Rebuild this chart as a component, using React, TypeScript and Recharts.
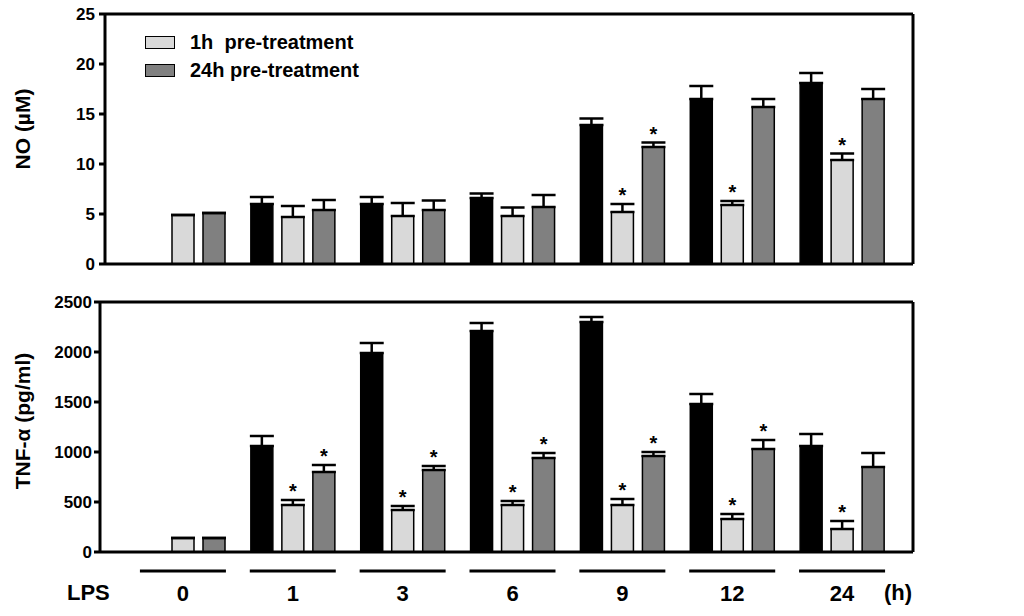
import React from 'react';
import { BarChart, Bar, XAxis, YAxis, ErrorBar, LabelList, Legend, ReferenceLine } from 'recharts';

const FONT = '"Liberation Sans", Arial, Helvetica, sans-serif';

const categories = ['0', '1', '3', '6', '9', '12', '24'];

// NO (µM)
const noLps = [null, 6.0, 6.0, 6.6, 13.9, 16.5, 18.1];
const noLpsErr = [null, 0.7, 0.7, 0.45, 0.65, 1.3, 1.0];
const no1h = [4.9, 4.7, 4.8, 4.8, 5.2, 5.9, 10.4];
const no1hErr = [0, 1.1, 1.3, 0.85, 0.8, 0.4, 0.65];
const no1hSig = [false, false, false, false, true, true, true];
const no24h = [5.1, 5.4, 5.4, 5.7, 11.7, 15.7, 16.5];
const no24hErr = [0, 1.0, 0.95, 1.2, 0.45, 0.8, 1.0];
const no24hSig = [false, false, false, false, true, false, false];

// TNF-α (pg/ml)
const tnfLps = [null, 1060, 1990, 2210, 2300, 1480, 1060];
const tnfLpsErr = [null, 100, 100, 80, 50, 100, 120];
const tnf1h = [140, 470, 420, 470, 470, 330, 230];
const tnf1hErr = [0, 50, 40, 40, 60, 50, 80];
const tnf1hSig = [false, true, true, true, true, true, true];
const tnf24h = [140, 800, 820, 940, 960, 1030, 850];
const tnf24hErr = [0, 70, 40, 50, 40, 90, 140];
const tnf24hSig = [false, true, true, true, true, true, false];

const noTicks = [0, 5, 10, 15, 20, 25];
const tnfTicks = [0, 500, 1000, 1500, 2000, 2500];

const seriesNames = { lps: 'LPS', h1: '1h  pre-treatment', h24: '24h pre-treatment' };
const colors = { lps: '#000000', h1: '#d9d9d9', h24: '#808080' };

const noData = categories.map((c, i) => ({
  cat: c,
  lps: noLps[i],
  lpsErr: noLps[i] == null ? null : [0, noLpsErr[i] as number],
  h1: no1h[i],
  h1Err: [0, no1hErr[i]],
  h24: no24h[i],
  h24Err: [0, no24hErr[i]],
}));

const tnfData = categories.map((c, i) => ({
  cat: c,
  lps: tnfLps[i],
  lpsErr: tnfLps[i] == null ? null : [0, tnfLpsErr[i] as number],
  h1: tnf1h[i],
  h1Err: [0, tnf1hErr[i]],
  h24: tnf24h[i],
  h24Err: [0, tnf24hErr[i]],
}));

const makeStar = (vals: any[], errs: any[], sigs: boolean[]) => (props: any) => {
  const { x, y, width, height, index } = props;
  if (index == null || !sigs[index]) return null;
  const v = vals[index];
  if (!v) return null;
  const k = Number(height) / v;
  const capY = Number(y) - errs[index] * k;
  return (
    <text
      x={Number(x) + Number(width) / 2}
      y={capY - 2}
      textAnchor="middle"
      fontSize={20}
      fontWeight={700}
      fontFamily={FONT}
      fill="#000"
    >
      *
    </text>
  );
};

const LegendContent = (props: any) => {
  const payload = (props.payload || []).filter((e: any) => e.type !== 'none');
  return (
    <div>
      {payload.map((e: any, i: number) => (
        <div key={i} style={{ display: 'flex', alignItems: 'center', height: 28 }}>
          <span
            style={{
              display: 'inline-block',
              boxSizing: 'border-box',
              width: 30,
              height: 13,
              background: e.color,
              border: '1.5px solid #000',
              marginRight: 15,
            }}
          />
          <span
            style={{
              whiteSpace: 'pre',
              fontFamily: FONT,
              fontWeight: 700,
              fontSize: 20,
              color: '#000',
              lineHeight: '20px',
            }}
          >
            {e.value}
          </span>
        </div>
      ))}
    </div>
  );
};

const GroupTick = (props: any) => {
  const { x, y, payload } = props;
  return (
    <g>
      <line x1={x - 43} x2={x + 43} y1={y + 19} y2={y + 19} stroke="#000" strokeWidth={3} />
      <text x={x} y={y + 49} textAnchor="middle" fontSize={22} fontWeight={700} fontFamily={FONT} fill="#000">
        {payload.value}
      </text>
    </g>
  );
};

const tickStyle = { fill: '#000', fontSize: 17, fontWeight: 700, fontFamily: FONT };
const axisLine = { stroke: '#000', strokeWidth: 3 };
const tickLine = { stroke: '#000', strokeWidth: 3 };

const yTitle = (text: string, cx: number, cy: number) => () => (
  <text
    x={cx}
    y={cy}
    transform={`rotate(-90 ${cx} ${cy})`}
    textAnchor="middle"
    dominantBaseline="central"
    fontSize={21}
    fontWeight={700}
    fontFamily={FONT}
    fill="#000"
  >
    {text}
  </text>
);

export default function App() {
  return (
    <div style={{ position: 'absolute', left: 0, top: 0, width: 1024, height: 616, background: '#fff' }}>
      <div style={{ position: 'absolute', left: 0, top: 0 }}>
        <BarChart
          width={1024}
          height={280}
          data={noData}
          margin={{ top: 14, right: 110, bottom: 0, left: 55 }}
          barSize={22}
          barGap={9}
        >
          <XAxis
            dataKey="cat"
            height={16}
            tick={false}
            tickLine={false}
            axisLine={axisLine}
            padding={{ left: 23, right: 16 }}
          />
          <YAxis
            width={50}
            domain={[0, 25]}
            ticks={noTicks}
            interval={0}
            tick={tickStyle}
            tickSize={6}
            tickMargin={4}
            tickLine={tickLine}
            axisLine={axisLine}
            label={yTitle('NO (µM)', 22, 129)}
          />
          <YAxis
            yAxisId="right"
            orientation="right"
            width={1}
            tick={false}
            tickLine={false}
            axisLine={axisLine}
          />
          <ReferenceLine y={25} stroke="#000" strokeWidth={3} />
          <Legend
            layout="vertical"
            align="center"
            verticalAlign="middle"
            content={LegendContent}
            wrapperStyle={{ position: 'absolute', left: 145, top: 28, width: 'auto' }}
          />
          <Bar dataKey="lps" name={seriesNames.lps} fill={colors.lps} stroke="#000" strokeWidth={1.5} legendType="none" isAnimationActive={false}>
            <ErrorBar dataKey="lpsErr" width={12} stroke="#000" strokeWidth={2.5} direction="y" />
          </Bar>
          <Bar dataKey="h1" name={seriesNames.h1} fill={colors.h1} stroke="#000" strokeWidth={1.5} isAnimationActive={false}>
            <ErrorBar dataKey="h1Err" width={12} stroke="#000" strokeWidth={2.5} direction="y" />
            <LabelList dataKey="h1" content={makeStar(no1h, no1hErr, no1hSig)} />
          </Bar>
          <Bar dataKey="h24" name={seriesNames.h24} fill={colors.h24} stroke="#000" strokeWidth={1.5} isAnimationActive={false}>
            <ErrorBar dataKey="h24Err" width={12} stroke="#000" strokeWidth={2.5} direction="y" />
            <LabelList dataKey="h24" content={makeStar(no24h, no24hErr, no24hSig)} />
          </Bar>
        </BarChart>
      </div>

      <div style={{ position: 'absolute', left: 0, top: 280 }}>
        <BarChart
          width={1024}
          height={336}
          data={tnfData}
          margin={{ top: 22, right: 110, bottom: 0, left: 50 }}
          barSize={22}
          barGap={9}
        >
          <XAxis
            dataKey="cat"
            height={64}
            tick={GroupTick}
            tickSize={0}
            tickMargin={0}
            tickLine={false}
            axisLine={axisLine}
            interval={0}
            padding={{ left: 28, right: 16 }}
          />
          <YAxis
            width={50}
            domain={[0, 2500]}
            ticks={tnfTicks}
            interval={0}
            tick={tickStyle}
            tickSize={6}
            tickMargin={2}
            tickLine={tickLine}
            axisLine={axisLine}
            label={yTitle('TNF-α (pg/ml)', 22, 141)}
          />
          <YAxis
            yAxisId="right"
            orientation="right"
            width={1}
            tick={false}
            tickLine={false}
            axisLine={axisLine}
          />
          <ReferenceLine y={2500} stroke="#000" strokeWidth={3} />
          <Bar dataKey="lps" name={seriesNames.lps} fill={colors.lps} stroke="#000" strokeWidth={1.5} isAnimationActive={false}>
            <ErrorBar dataKey="lpsErr" width={12} stroke="#000" strokeWidth={2.5} direction="y" />
          </Bar>
          <Bar dataKey="h1" name={seriesNames.h1} fill={colors.h1} stroke="#000" strokeWidth={1.5} isAnimationActive={false}>
            <ErrorBar dataKey="h1Err" width={12} stroke="#000" strokeWidth={2.5} direction="y" />
            <LabelList dataKey="h1" content={makeStar(tnf1h, tnf1hErr, tnf1hSig)} />
          </Bar>
          <Bar dataKey="h24" name={seriesNames.h24} fill={colors.h24} stroke="#000" strokeWidth={1.5} isAnimationActive={false}>
            <ErrorBar dataKey="h24Err" width={12} stroke="#000" strokeWidth={2.5} direction="y" />
            <LabelList dataKey="h24" content={makeStar(tnf24h, tnf24hErr, tnf24hSig)} />
          </Bar>
        </BarChart>
      </div>

      <div style={{ position: 'absolute', left: 67, top: 580, fontFamily: FONT, fontWeight: 700, fontSize: 22, color: '#000' }}>LPS</div>
      <div style={{ position: 'absolute', left: 884, top: 580, fontFamily: FONT, fontWeight: 700, fontSize: 22, color: '#000' }}>(h)</div>
    </div>
  );
}
